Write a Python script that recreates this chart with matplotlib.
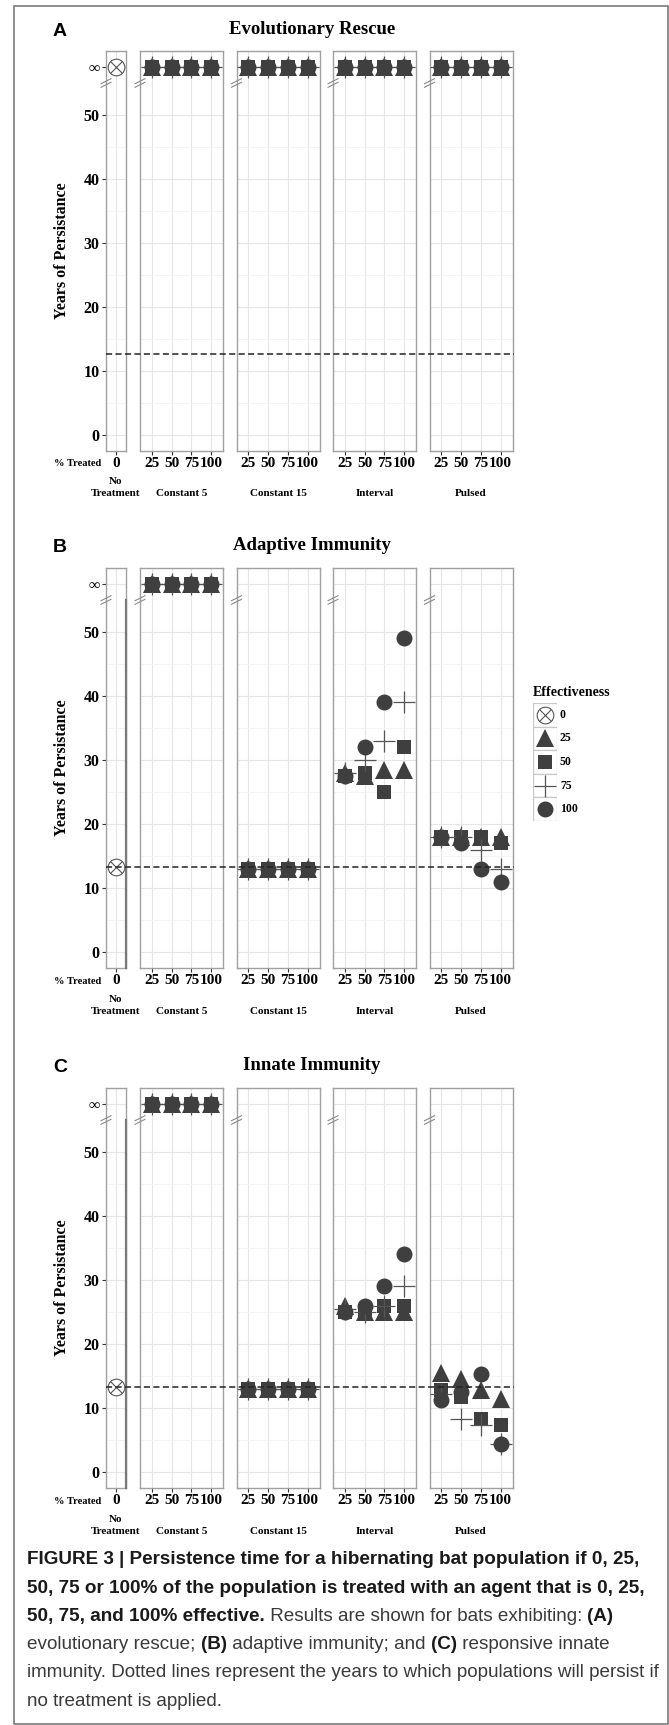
import numpy as np
import matplotlib.pyplot as plt
from matplotlib.patches import Rectangle
from matplotlib.lines import Line2D
import matplotlib.transforms as mtransforms

# ---- data ----
treated = [25, 50, 75, 100]          # % treated (x categories inside each strategy panel)
effectiveness = [0, 25, 50, 75, 100]  # % effective (marker shape)
strategies = ["Constant 5", "Constant 15", "Interval", "Pulsed"]
panel_titles = ["Evolutionary Rescue", "Adaptive Immunity", "Innate Immunity"]
panel_letters = ["A", "B", "C"]
y_ticks = [0, 10, 20, 30, 40, 50]

inf = np.inf

# no treatment (effectiveness 0) and dotted reference line, per panel
no_treatment = [inf, 13.3, 13.3]
baseline = [12.6, 13.3, 13.3]

# rows: effectiveness 25, 50, 75, 100 ; columns: % treated 25, 50, 75, 100
rescue_constant5 = [[inf, inf, inf, inf]] * 4
rescue_constant15 = [[inf, inf, inf, inf]] * 4
rescue_interval = [[inf, inf, inf, inf]] * 4
rescue_pulsed = [[inf, inf, inf, inf]] * 4

adaptive_constant5 = [[inf, inf, inf, inf]] * 4
adaptive_constant15 = [[13, 13, 13, 13]] * 4
adaptive_interval = [
    [28, 27.5, 28.5, 28.5],
    [27.5, 28, 25, 32],
    [28, 30, 33, 39],
    [27.5, 32, 39, 49],
]
adaptive_pulsed = [
    [18, 18, 18, 18],
    [18, 18, 18, 17],
    [18, 18, 16, 13],
    [18, 17, 13, 11],
]

innate_constant5 = [[inf, inf, inf, inf]] * 4
innate_constant15 = [[13, 13, 13, 13]] * 4
innate_interval = [
    [26, 25, 25, 25],
    [25, 25, 26, 26],
    [25.5, 25, 26, 29],
    [25, 26, 29, 34],
]
innate_pulsed = [
    [15.5, 14.5, 12.8, 11.4],
    [12.8, 11.7, 8.3, 7.3],
    [12.2, 8.3, 7.3, 4.4],
    [11.2, 12.5, 15.3, 4.4],
]

rescue = [rescue_constant5, rescue_constant15, rescue_interval, rescue_pulsed]
adaptive = [adaptive_constant5, adaptive_constant15, adaptive_interval, adaptive_pulsed]
innate = [innate_constant5, innate_constant15, innate_interval, innate_pulsed]
panels = [rescue, adaptive, innate]

# ---- layout / style ----
W, H = 669, 1725
SERIF = ['Liberation Serif', 'DejaVu Serif']
SANS = ['Liberation Sans', 'DejaVu Sans']
DARK = '#3f3f3f'
LINE = '#555555'
SPINE = '#a0a0a0'
Y_INF = 57.5
YLIM = (-2.5, 60)

NT_X = (106, 126)
STRAT_X = [(140, 223), (236.5, 319.5), (333, 416), (429.5, 512.5)]
ROW_TOP = [51, 568, 1088]
PANEL_H = 400

fig = plt.figure(figsize=(W / 100, H / 100), dpi=100)


def px_axes(x0, y0, x1, y1):
    return fig.add_axes([x0 / W, 1 - y1 / H, (x1 - x0) / W, (y1 - y0) / H])


def ftext(x, y, s, **kw):
    return fig.text(x / W, 1 - y / H, s, **kw)


marker_style = {
    25: dict(marker='^', ms=12.5, mfc=DARK, mec=DARK, mew=0),
    50: dict(marker='s', ms=10.5, mfc=DARK, mec=DARK, mew=0),
    75: dict(marker='+', ms=16, mec=LINE, mew=0.9),
    100: dict(marker='o', ms=11.5, mfc=DARK, mec=DARK, mew=0),
}


def draw_point(ax, x, y, eff):
    y = Y_INF if np.isinf(y) else y
    if eff == 0:
        ax.plot(x, y, marker='o', ms=12, mfc='white', mec=LINE, mew=0.8,
                ls='none', clip_on=False, zorder=5)
        ax.plot(x, y, marker='x', ms=8.5, mec=LINE, mew=0.8,
                ls='none', clip_on=False, zorder=5)
    else:
        ax.plot(x, y, ls='none', clip_on=False, zorder=5, **marker_style[eff])


def style_axes(ax, xlim, xticks, xlabels, show_y):
    ax.set_xlim(*xlim)
    ax.set_ylim(*YLIM)
    ax.set_xticks(xticks)
    ax.set_xticklabels(xlabels, fontfamily=SERIF, fontweight='bold', fontsize=11)
    ax.set_yticks(y_ticks + [Y_INF])
    ax.set_yticks([5, 15, 25, 35, 45], minor=True)
    if show_y:
        ax.set_yticklabels([str(t) for t in y_ticks] + ['\u221e'],
                           fontfamily=SERIF, fontweight='bold', fontsize=11.5)
        ax.tick_params(axis='y', length=3, width=0.8, color='#333333', pad=1.5)
    else:
        ax.set_yticklabels([])
        ax.tick_params(axis='y', length=0)
    ax.tick_params(axis='y', which='minor', length=0)
    ax.tick_params(axis='x', length=3, width=0.8, color='#333333', pad=1.5)
    ax.grid(True, which='major', color='#e6e6e6', lw=0.8)
    ax.grid(True, which='minor', axis='y', color='#f3f3f3', lw=0.6)
    ax.set_axisbelow(True)
    for sp in ax.spines.values():
        sp.set_color(SPINE)
        sp.set_linewidth(1.0)


def break_mark(ax, width_px):
    yf = (55 - YLIM[0]) / (YLIM[1] - YLIM[0])
    for dy in (-1.8, 1.8):
        ax.plot([-5 / width_px, 5 / width_px],
                [yf + (dy - 2.5) / PANEL_H, yf + (dy + 2.5) / PANEL_H],
                transform=ax.transAxes, color='#8a8a8a', lw=0.8,
                clip_on=False, zorder=6)


for r, data in enumerate(panels):
    top = ROW_TOP[r]
    bottom = top + PANEL_H

    ax_nt = px_axes(NT_X[0], top, NT_X[1], bottom)
    style_axes(ax_nt, (0.5, 1.5), [1], ['0'], True)
    draw_point(ax_nt, 1, no_treatment[r], 0)
    break_mark(ax_nt, NT_X[1] - NT_X[0])
    if r > 0:
        # darker edge below the axis break in the no-treatment facet
        ax_nt.plot([1.0, 1.0], [0, (55 - YLIM[0]) / (YLIM[1] - YLIM[0])],
                   transform=ax_nt.transAxes, color='#7a7a7a', lw=1.6,
                   clip_on=False, zorder=6)

    for s, (x0, x1) in enumerate(STRAT_X):
        ax = px_axes(x0, top, x1, bottom)
        style_axes(ax, (0.4, 4.6), [1, 2, 3, 4], [str(t) for t in treated], False)
        for e, eff in enumerate(effectiveness[1:]):
            for i in range(len(treated)):
                draw_point(ax, i + 1, data[s][e][i], eff)
        break_mark(ax, x1 - x0)
        ftext((x0 + x1) / 2, bottom + 43, strategies[s], ha='center', va='center',
              fontfamily=SERIF, fontweight='bold', fontsize=8)

    # dotted line showing persistence without treatment, across all facets
    trans = mtransforms.blended_transform_factory(fig.transFigure, ax_nt.transData)
    fig.add_artist(Line2D([NT_X[0] / W, 514 / W], [baseline[r], baseline[r]],
                          transform=trans, ls=(0, (4, 2.2)), color='#222222',
                          lw=1.1, zorder=10))

    ftext((NT_X[0] + NT_X[1]) / 2, bottom + 31, 'No', ha='center', va='center',
          fontfamily=SERIF, fontweight='bold', fontsize=8)
    ftext((NT_X[0] + NT_X[1]) / 2, bottom + 43, 'Treatment', ha='center', va='center',
          fontfamily=SERIF, fontweight='bold', fontsize=8)
    ftext(101, bottom + 13, '% Treated', ha='right', va='center',
          fontfamily=SERIF, fontweight='bold', fontsize=7.5)
    ftext(62, (top + bottom) / 2, 'Years of Persistance', rotation=90,
          ha='center', va='center', fontfamily=SERIF, fontweight='bold', fontsize=11.5)
    ftext(312, top - 22, panel_titles[r], ha='center', va='center',
          fontfamily=SERIF, fontweight='bold', fontsize=13.5)
    ftext(60, top - 20, panel_letters[r], ha='center', va='center',
          fontfamily=SANS, fontweight='bold', fontsize=14)

# ---- legend (panel B only) ----
ftext(533, 692, 'Effectiveness', ha='left', va='center',
      fontfamily=SERIF, fontweight='bold', fontsize=10)
key = 23.6
leg_top = 703
ax_leg = px_axes(533, leg_top, 533 + key, leg_top + key * len(effectiveness))
ax_leg.set_xlim(0, 1)
ax_leg.set_ylim(len(effectiveness), 0)
ax_leg.axis('off')
for i, eff in enumerate(effectiveness):
    ax_leg.add_patch(Rectangle((0, i), 1, 1, facecolor='white', edgecolor='#c8c8c8', lw=0.9))
    draw_point(ax_leg, 0.5, i + 0.5, eff)
    ftext(560, leg_top + key * (i + 0.5), str(eff), ha='left', va='center',
          fontfamily=SERIF, fontweight='bold', fontsize=8.5)

# ---- outer frame and caption ----
fig.add_artist(Rectangle((14 / W, 1 - 1724 / H), (668 - 14) / W, (1724 - 6) / H,
                         transform=fig.transFigure, fill=False, ec='#7a7a7a', lw=1.2))

caption = [
    [("FIGURE 3 | Persistence time for a hibernating bat population if 0, 25,", True)],
    [("50, 75 or 100% of the population is treated with an agent that is 0, 25,", True)],
    [("50, 75, and 100% effective.", True), (" Results are shown for bats exhibiting: ", False),
     ("(A)", True)],
    [("evolutionary rescue; ", False), ("(B)", True), (" adaptive immunity; and ", False),
     ("(C)", True), (" responsive innate", False)],
    [("immunity. Dotted lines represent the years to which populations will persist if", False)],
    [("no treatment is applied.", False)],
]
renderer = fig.canvas.get_renderer()
for k, parts in enumerate(caption):
    x = 27
    y = 1560 + 28.2 * k
    for txt, bold in parts:
        t = ftext(x, y, txt, ha='left', va='center', fontfamily=SANS,
                  fontweight='bold' if bold else 'normal', fontsize=13.6,
                  color='#1a1a1a' if bold else '#3a3a3a')
        x += t.get_window_extent(renderer).width

fig.savefig('out.png', dpi=100)
